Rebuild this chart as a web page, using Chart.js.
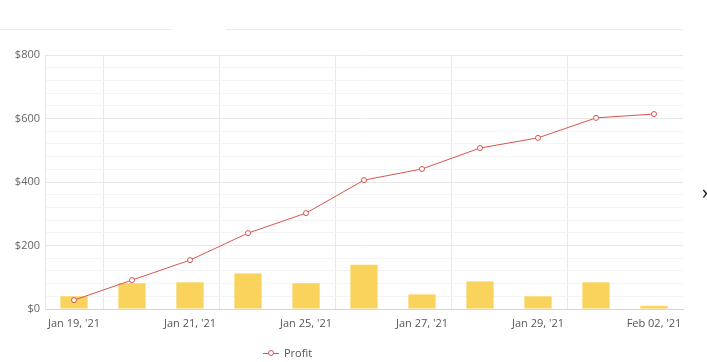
<!DOCTYPE html>
<html>
<head>
<meta charset="utf-8">
<title>Profit</title>
<script src="https://cdn.jsdelivr.net/npm/chart.js@4"></script>
<style>
  html, body { margin: 0; padding: 0; background: #fff; }
  #wrap { position: relative; width: 707px; height: 362px; overflow: hidden; font-family: "Open Sans", sans-serif; }
  #chart { position: absolute; left: 0; top: 0; }
  .topline { position: absolute; top: 29px; height: 1px; background: #ececec; }
  #legend { position: absolute; left: 263px; top: 345px; font-size: 11px; color: #555; display: flex; align-items: center; }
  #legend .mark { position: relative; width: 16px; height: 10px; margin-right: 5px; }
  #legend .mark .ln { position: absolute; left: 0; right: 0; top: 5px; height: 1px; background: #d9534f; }
  #legend .mark .pt { position: absolute; left: 5px; top: 2px; width: 4px; height: 4px; border: 1px solid #d9534f; border-radius: 50%; background: #fff; }
  #arrow { position: absolute; left: 702px; top: 178px; font-size: 20px; color: #111; }
</style>
</head>
<body>
<div id="wrap">
  <div class="topline" style="left:0;width:173px"></div>
  <div class="topline" style="left:226px;width:457px"></div>
  <canvas id="chart" width="707" height="362"></canvas>
  <div id="legend"><span class="mark"><span class="ln"></span><span class="pt"></span></span>Profit</div>
  <div id="arrow">›</div>
</div>
<script>
'use strict';

const dates = ["Jan 19, '21", "Jan 20, '21", "Jan 21, '21", "Jan 22, '21", "Jan 25, '21", "Jan 26, '21",
  "Jan 27, '21", "Jan 28, '21", "Jan 29, '21", "Feb 01, '21", "Feb 02, '21"];
const profit = [28, 91, 154, 239, 302, 406, 441, 507, 539, 602, 614];
const dailyProfit = [40, 81, 84, 112, 81, 139, 46, 87, 40, 84, 10];
const yTicks = [0, 200, 400, 600, 800];

const canvasEl = document.getElementById('chart');

function xGridColor(ctx) {
  let i = ctx.index;
  if (i === 0 || i % 2 === 1) {
    return '#e8e8e8';
  }
  return 'rgba(0,0,0,0)';
}

function yGridColor(ctx) {
  if (ctx.tick && yTicks.includes(ctx.tick.value)) {
    return '#e8e8e8';
  }
  return '#f4f4f4';
}

let chartObj = new Chart(canvasEl, {
  type: 'bar',
  data: {
    labels: dates,
    datasets: [{
      type: 'line',
      label: 'Profit',
      data: profit,
      borderColor: '#d9534f',
      borderWidth: 1,
      backgroundColor: '#fff',
      pointRadius: 2.5,
      pointBorderWidth: 1,
      pointBackgroundColor: '#fff',
      pointBorderColor: '#d9534f',
      tension: 0,
      order: 0
    }, {
      label: 'Daily Profit',
      data: dailyProfit,
      backgroundColor: '#f9d35c',
      categoryPercentage: 1,
      barPercentage: 0.47,
      order: 1
    }]
  },
  options: {
    responsive: false,
    animation: false,
    layout: { padding: { left: 0, right: 24, top: 55, bottom: 23 } },
    plugins: {
      legend: { display: false },
      tooltip: { enabled: false }
    },
    scales: {
      x: {
        offset: true,
        grid: { offset: true, color: xGridColor, drawTicks: false, lineWidth: 1 },
        border: { color: '#d3d3de' },
        ticks: {
          autoSkip: false,
          maxRotation: 0,
          padding: 8,
          color: '#555',
          font: { family: 'Open Sans', size: 11 },
          callback: function (value, index) {
            return index % 2 === 0 ? this.getLabelForValue(value) : '';
          }
        },
        afterFit: function (scale) { scale.height = 30; }
      },
      y: {
        min: 0,
        max: 800,
        grid: { color: yGridColor, drawTicks: false },
        border: { color: '#e8e8e8' },
        ticks: {
          autoSkip: false,
          stepSize: 40,
          padding: 5,
          color: '#666',
          font: { family: 'Open Sans', size: 11 },
          callback: function (value) {
            return yTicks.includes(value) ? '$' + value : '';
          }
        },
        afterFit: function (scale) { scale.width = 45; }
      }
    }
  }
});
</script>
</body>
</html>
